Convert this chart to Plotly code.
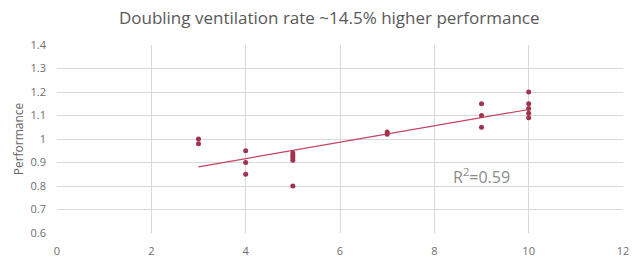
import numpy as np
import plotly.graph_objects as go

ventilation = [3, 3, 4, 4, 4, 5, 5, 5, 5, 5, 7, 7, 9, 9, 9, 10, 10, 10, 10, 10]
performance = [1.00, 0.98, 0.95, 0.90, 0.85, 0.94, 0.93, 0.92, 0.91, 0.80,
               1.03, 1.02, 1.15, 1.10, 1.05, 1.20, 1.15, 1.13, 1.11, 1.09]
x_ticks = [0, 2, 4, 6, 8, 10, 12]
y_ticks = [0.6, 0.7, 0.8, 0.9, 1.0, 1.1, 1.2, 1.3, 1.4]
y_tick_labels = ["0.6", "0.7", "0.8", "0.9", "1", "1.1", "1.2", "1.3", "1.4"]

slope, intercept = np.polyfit(ventilation, performance, 1)
tx = [min(ventilation), max(ventilation)]
ty = [slope * v + intercept for v in tx]

fig = go.Figure()
fig.add_trace(go.Scatter(x=tx, y=ty, mode="lines",
                         line=dict(color="#C8405F", width=1.2), showlegend=False))
fig.add_trace(go.Scatter(x=ventilation, y=performance, mode="markers",
                         marker=dict(color="#A2334F", size=5), showlegend=False))

fig.add_annotation(x=9.0, y=0.843, text="R<sup>2</sup>=0.59", showarrow=False,
                   font=dict(family="Open Sans, sans-serif", size=16, color="#8C8C8C"))

fig.update_layout(
    width=638, height=257,
    margin=dict(l=57, r=15, t=45, b=24, autoexpand=False),
    paper_bgcolor="white", plot_bgcolor="white",
    title=dict(text="Doubling ventilation rate ~14.5% higher performance",
               x=0.516, xanchor="center", y=0.93, yanchor="middle",
               font=dict(family="Open Sans, sans-serif", size=17, color="#595959")),
    font=dict(family="Open Sans, sans-serif", size=11, color="#666666"),
)
fig.update_xaxes(range=[0, 12], tickvals=x_ticks, showgrid=True, gridcolor="#D9D9D9",
                 gridwidth=1, zeroline=False, showline=False, ticks="",
                 ticklabelstandoff=10, automargin=False,
                 tickfont=dict(size=11, color="#6E6E6E"))
fig.update_yaxes(range=[0.6, 1.4], tickvals=y_ticks, ticktext=y_tick_labels,
                 showgrid=True, gridcolor="#D9D9D9", gridwidth=1, zeroline=False,
                 showline=False, ticks="", ticklabelstandoff=10, automargin=False,
                 title=dict(text="Performance", font=dict(size=12, color="#666666"), standoff=4),
                 tickfont=dict(size=11, color="#6E6E6E"))

fig.write_html("out.html", config={"displayModeBar": False},
               post_script="document.body.style.margin='0';document.body.style.overflow='hidden';")
